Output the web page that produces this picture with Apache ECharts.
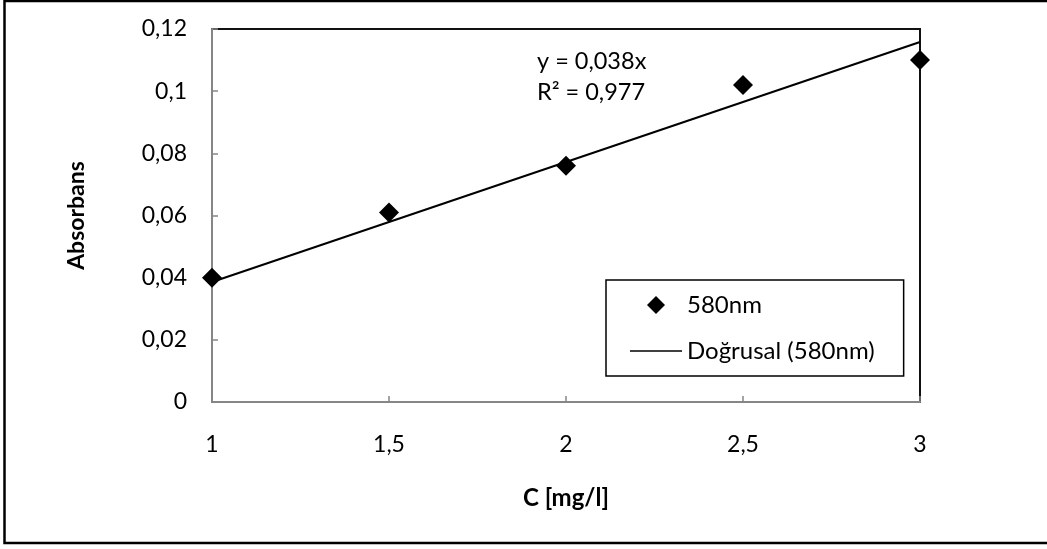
<!DOCTYPE html>
<html>
<head>
<meta charset="utf-8">
<script src="https://cdn.jsdelivr.net/npm/echarts@6/dist/echarts.min.js"></script>
<style>
  html, body { margin: 0; padding: 0; background: #fff; }
  #main { width: 1047px; height: 549px; }
</style>
</head>
<body>
<div id="main"></div>
<script>
// concentration (mg/l) and absorbance
var conc = [1, 1.5, 2, 2.5, 3];
var absorb = [0.040, 0.061, 0.076, 0.102, 0.110];
var seriesName = '580nm';
var trendName = 'Doğrusal (580nm)';
var eqLines = ['y = 0,038x', 'R² = 0,977'];

// linear trend forced through origin (Excel "set intercept = 0")
var sxy = 0, sxx = 0;
for (var i = 0; i < conc.length; i++) {
    sxy += conc[i] * absorb[i];
    sxx += conc[i] * conc[i];
}
var slope = sxy / sxx;
var xMin = conc[0], xMax = conc[conc.length - 1];

function comma(v) {
    return String(v).replace('.', ',');
}

var font = 'Lato';
var myChart = echarts.init(document.getElementById('main'));

var option = {
    animation: false,
    backgroundColor: '#fff',
    textStyle: { fontFamily: font, color: '#000' },
    grid: {
        left: 212,
        right: 127,
        top: 29,
        bottom: 147,
        show: true,
        borderColor: '#111',
        borderWidth: 2
    },
    xAxis: {
        type: 'value',
        min: 1,
        max: 3,
        interval: 0.5,
        name: 'C [mg/l]',
        nameLocation: 'middle',
        nameGap: 84,
        nameTextStyle: { fontFamily: font, fontWeight: 'bold', fontSize: 24, color: '#000' },
        axisLine: { lineStyle: { color: '#868686', width: 2 } },
        axisTick: { inside: true, length: 6, lineStyle: { color: '#868686', width: 1.5 } },
        axisLabel: { margin: 31, fontSize: 23, color: '#000', fontFamily: font, formatter: comma },
        splitLine: { show: false }
    },
    yAxis: {
        type: 'value',
        min: 0,
        max: 0.12,
        interval: 0.02,
        name: 'Absorbans',
        nameLocation: 'middle',
        nameGap: 124,
        nameTextStyle: { fontFamily: font, fontWeight: 'bold', fontSize: 23, color: '#000' },
        axisLine: { show: true, lineStyle: { color: '#868686', width: 2 } },
        axisTick: { show: true, inside: true, length: 6, lineStyle: { color: '#868686', width: 1.5 } },
        axisLabel: { margin: 25, fontSize: 23, color: '#000', fontFamily: font, formatter: comma },
        splitLine: { show: false }
    },
    legend: {
        orient: 'vertical',
        left: 606,
        top: 280,
        padding: [12, 29, 12, 24],
        itemGap: 20,
        itemWidth: 52,
        itemHeight: 18,
        borderColor: '#000',
        borderWidth: 1.5,
        textStyle: { fontSize: 24, color: '#000', fontFamily: font, lineHeight: 26 },
        data: [
            { name: seriesName, icon: 'path://M5,0L10,5L5,10L0,5Z' },
            { name: trendName, icon: 'path://M0,0H80V2H0Z' }
        ]
    },
    graphic: [
        {
            type: 'rect',
            silent: true,
            shape: { x: 4.5, y: 1, width: 1100, height: 542 },
            style: { fill: null, stroke: '#000', lineWidth: 2.5 }
        },
        {
            type: 'text',
            left: 537,
            top: 46,
            style: {
                text: eqLines.join('\n'),
                font: '23.5px ' + font,
                lineHeight: 31,
                fill: '#000'
            }
        }
    ],
    series: [
        {
            name: trendName,
            type: 'line',
            data: [[xMin, slope * xMin], [xMax, slope * xMax]],
            showSymbol: false,
            symbol: 'none',
            lineStyle: { color: '#000', width: 2 },
            itemStyle: { color: '#000' },
            z: 2
        },
        {
            name: seriesName,
            type: 'scatter',
            data: conc.map(function (c, i) { return [c, absorb[i]]; }),
            symbol: 'diamond',
            symbolSize: 20,
            itemStyle: { color: '#000', opacity: 1 },
            z: 3
        }
    ]
};

myChart.setOption(option);
</script>
</body>
</html>
